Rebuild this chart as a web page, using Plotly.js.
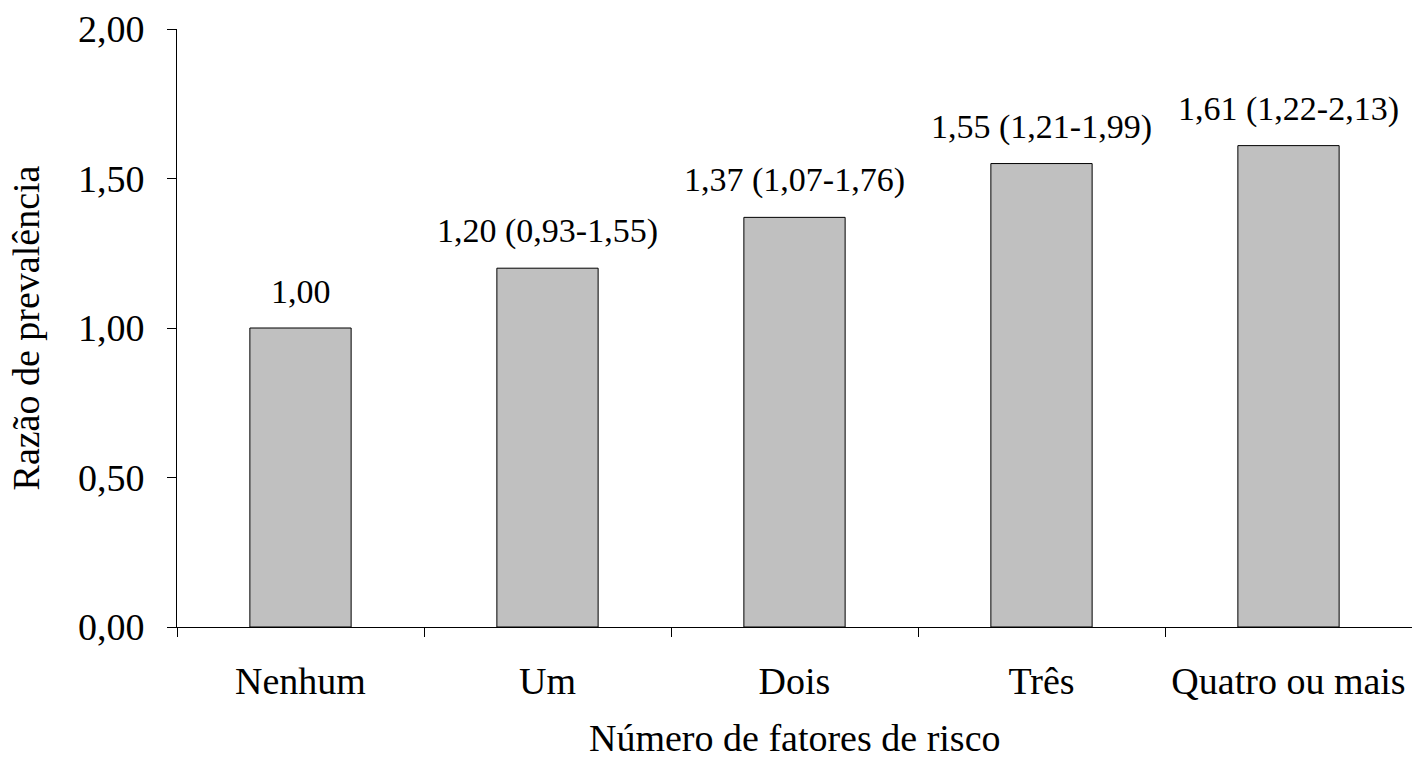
<!DOCTYPE html>
<html>
<head>
<meta charset="utf-8">
<script src="https://cdn.plot.ly/plotly-3.0.1.min.js"></script>
<style>html,body{margin:0;padding:0;background:#fff;}#chart{width:1412px;height:760px;}</style>
</head>
<body>
<div id="chart"></div>
<script>
const categories = ['Nenhum', 'Um', 'Dois', 'Três', 'Quatro ou mais'];
const prevalenceRatio = [1.00, 1.20, 1.37, 1.55, 1.61];
const ciLower = [null, 0.93, 1.07, 1.21, 1.22];
const ciUpper = [null, 1.55, 1.76, 1.99, 2.13];
const yTickVals = [0, 0.5, 1, 1.5, 2];
const xTitle = 'Número de fatores de risco';
const yTitle = 'Razão de prevalência';

const fmt = v => v.toFixed(2).replace('.', ',');
const labels = prevalenceRatio.map((v, i) =>
  ciLower[i] === null ? fmt(v) : fmt(v) + ' (' + fmt(ciLower[i]) + '-' + fmt(ciUpper[i]) + ')');

const FONT = 'Liberation Serif, Times New Roman, serif';
const AX = 38;
const LBL = 34;

const trace = {
  type: 'bar',
  x: categories,
  y: prevalenceRatio,
  marker: {color: '#c0c0c0', line: {color: '#000', width: 1}},
  hoverinfo: 'none'
};

const annotations = categories.map((c, i) => ({
  x: c, y: prevalenceRatio[i], xref: 'x', yref: 'y',
  text: labels[i], showarrow: false,
  xanchor: 'center', yanchor: 'bottom', yshift: 16,
  font: {family: FONT, size: LBL, color: '#000'}
}));

annotations.push({
  x: 0.5, y: 0, xref: 'paper', yref: 'paper',
  text: xTitle, showarrow: false,
  xanchor: 'center', yanchor: 'middle', yshift: -111,
  font: {family: FONT, size: AX, color: '#000'}
});

const layout = {
  width: 1412, height: 760,
  margin: {l: 177, r: 0, t: 29, b: 133},
  paper_bgcolor: '#fff', plot_bgcolor: '#fff',
  separators: ', ',
  bargap: 0.59,
  showlegend: false,
  font: {family: FONT, size: AX, color: '#000'},
  xaxis: {
    type: 'category',
    showline: true, linecolor: '#000', linewidth: 1,
    ticks: 'outside', tickson: 'boundaries', ticklen: 9, tickcolor: '#000', tickwidth: 1,
    showgrid: false, zeroline: false,
    tickfont: {family: FONT, size: AX, color: '#000'},
    ticklabelstandoff: 20,
    automargin: false
  },
  yaxis: {
    range: [0, 2],
    tickvals: yTickVals,
    tickformat: '.2f',
    showline: true, linecolor: '#000', linewidth: 1,
    ticks: 'outside', ticklen: 9, tickcolor: '#000', tickwidth: 1,
    showgrid: false, zeroline: false,
    tickfont: {family: FONT, size: AX, color: '#000'},
    ticklabelstandoff: 15,
    title: {text: yTitle, font: {family: FONT, size: AX, color: '#000'}, standoff: 26},
    automargin: false
  },
  annotations: annotations
};

Plotly.newPlot('chart', [trace], layout, {staticPlot: true, displayModeBar: false});
</script>
</body>
</html>
